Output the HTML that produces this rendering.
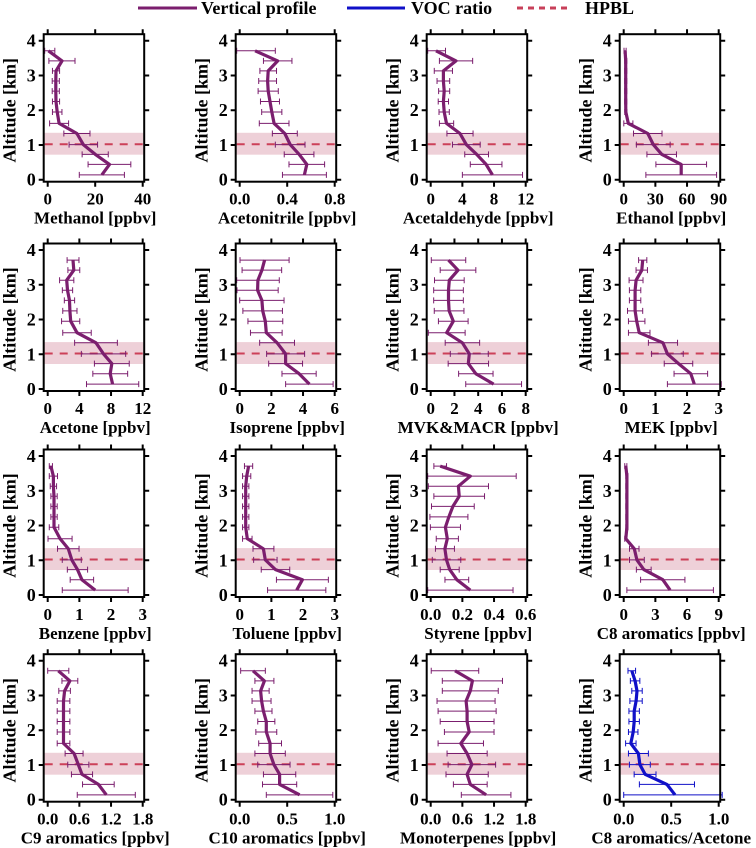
<!DOCTYPE html>
<html><head><meta charset="utf-8"><style>
html,body{margin:0;padding:0;background:#fff;}
svg{display:block;}
text{font-family:"Liberation Serif",serif;font-weight:bold;}
</style></head><body>
<svg id="fig" width="756" height="848" viewBox="0 0 756 848" xmlns="http://www.w3.org/2000/svg" font-family="Liberation Serif, serif" font-weight="bold">
<g>
<line x1="138" y1="8" x2="197" y2="8" stroke="#7b1e6e" stroke-width="3"/>
<text x="201" y="14" font-size="18">Vertical profile</text>
<line x1="347" y1="8" x2="405" y2="8" stroke="#1010c8" stroke-width="3"/>
<text x="411" y="14" font-size="18">VOC ratio</text>
<line x1="517" y1="8" x2="572" y2="8" stroke="#c8405a" stroke-width="3" stroke-dasharray="6,5"/>
<text x="585" y="14" font-size="18">HPBL</text>
</g>
<g id="panels"></g>
</svg>
<script>
const levels=[3.71,3.42,3.13,2.84,2.55,2.25,1.95,1.62,1.33,1.01,0.73,0.44,0.14];
const hpbl=1.02, hpblLo=0.72, hpblHi=1.35;
const labels=["Methanol [ppbv]","Acetonitrile [ppbv]","Acetaldehyde [ppbv]","Ethanol [ppbv]","Acetone [ppbv]","Isoprene [ppbv]","MVK&MACR [ppbv]","MEK [ppbv]","Benzene [ppbv]","Toluene [ppbv]","Styrene [ppbv]","C8 aromatics [ppbv]","C9 aromatics [ppbv]","C10 aromatics [ppbv]","Monoterpenes [ppbv]","C8 aromatics/Acetone"];
const xMax=[40,0.8,12,90,12,6,8,3,3,3,0.6,9,1.8,1.0,1.8,1.0];
const xTicks=[[0,20,40],[0,0.4,0.8],[0,4,8,12],[0,30,60,90],[0,4,8,12],[0,2,4,6],[0,2,4,6,8],[0,1,2,3],[0,1,2,3],[0,1,2,3],[0,0.2,0.4,0.6],[0,3,6,9],[0,0.6,1.2,1.8],[0,0.5,1.0],[0,0.6,1.2,1.8],[0,0.5,1.0]];
const tickDigits=[0,1,0,0,0,0,0,0,0,0,1,0,1,1,1,1];
const methanolVals=[0.3,6,3.5,3.4,3.4,3.5,4,4.8,12.3,15,20,26,22.8];
const methanolErr=[2.7,5.5,1.5,1.5,1.5,1.5,2,4,5.5,6,5.5,9,9.5];
const acetonitrileVals=[0.13,0.32,0.24,0.235,0.24,0.255,0.27,0.29,0.38,0.425,0.5,0.565,0.545];
const acetonitrileErr=[0.17,0.12,0.07,0.075,0.085,0.08,0.085,0.125,0.105,0.125,0.125,0.15,0.185];
const acetaldehydeVals=[0.67,3.2,1.6,1.6,1.7,1.6,1.7,2.0,3.7,4.5,5.8,7.0,7.8];
const acetaldehydeErr=[1.2,2.1,1.15,0.8,0.7,0.65,0.65,0.9,1.65,1.75,1.5,2.0,3.8];
const ethanolVals=[1.3,1.9,1.9,1.9,1.9,1.9,2.0,4.4,22.8,28,36,54.5,54.5];
const ethanolErr=[1,1,1,1,1,1,1,4.3,13.5,16,14,24,33.5];
const acetoneVals=[3.2,3.3,2.4,2.5,2.75,2.8,2.9,3.7,6.1,7.05,8.1,7.9,8.2];
const acetoneErr=[0.75,0.75,0.9,0.65,0.65,0.9,1.15,1.8,2.7,2.8,2.2,2.2,3.3];
const isopreneVals=[1.57,1.4,1.15,1.13,1.4,1.45,1.62,1.68,2.36,2.9,2.9,3.75,4.4];
const isopreneErr=[1.55,1.25,1.35,1.3,1.4,1.25,1.1,1.0,1.1,1.2,1.07,1.08,1.5];
const mvkVals=[1.5,2.3,1.57,1.5,1.5,1.55,1.9,1.35,2.67,3.25,3.17,3.8,5.3];
const mvkErr=[1.45,1.5,1.25,1.25,1.25,1.25,1.25,1.55,1.45,1.6,1.7,1.45,2.35];
const mekVals=[0.6,0.57,0.39,0.36,0.36,0.36,0.41,0.49,1.24,1.38,1.73,2.12,2.23];
const mekErr=[0.13,0.18,0.22,0.18,0.18,0.24,0.26,0.34,0.46,0.5,0.45,0.53,0.85];
const benzeneVals=[0.1,0.18,0.18,0.2,0.2,0.2,0.2,0.39,0.65,0.76,0.94,1.08,1.5];
const benzeneErr=[0.05,0.13,0.1,0.1,0.1,0.1,0.15,0.38,0.34,0.3,0.32,0.37,1.04];
const tolueneVals=[0.28,0.22,0.19,0.19,0.19,0.19,0.19,0.24,0.75,0.81,1.13,1.98,1.8];
const tolueneErr=[0.13,0.13,0.1,0.1,0.1,0.1,0.1,0.15,0.33,0.37,0.45,0.82,0.92];
const styreneVals=[0.06,0.25,0.175,0.18,0.14,0.115,0.093,0.105,0.09,0.1,0.12,0.165,0.25];
const styreneErr=[0.04,0.29,0.19,0.16,0.135,0.12,0.095,0.07,0.06,0.09,0.06,0.075,0.27];
const c8Vals=[0.2,0.3,0.3,0.3,0.3,0.3,0.3,0.2,1.0,1.25,1.9,3.7,4.4];
const c8Err=[0.1,0.1,0.1,0.1,0.1,0.1,0.1,0.1,0.45,0.7,0.7,2.1,4.1];
const c9Vals=[0.2,0.42,0.32,0.3,0.3,0.3,0.3,0.3,0.5,0.58,0.65,0.96,1.11];
const c9Err=[0.2,0.15,0.11,0.12,0.12,0.12,0.12,0.12,0.17,0.2,0.2,0.3,0.55];
const c10Vals=[0.14,0.26,0.22,0.23,0.25,0.28,0.28,0.32,0.32,0.36,0.42,0.42,0.63];
const c10Err=[0.13,0.1,0.09,0.1,0.09,0.09,0.11,0.12,0.16,0.17,0.17,0.18,0.35];
const monoVals=[0.46,0.79,0.75,0.67,0.69,0.69,0.73,0.57,0.69,0.78,0.69,0.75,1.05];
const monoErr=[0.45,0.57,0.53,0.55,0.55,0.51,0.47,0.43,0.38,0.45,0.4,0.32,0.47];
const ratioVals=[0.085,0.12,0.14,0.13,0.11,0.11,0.1,0.075,0.155,0.17,0.225,0.455,0.54];
const ratioErr=[0.04,0.05,0.055,0.065,0.055,0.055,0.05,0.055,0.105,0.11,0.115,0.29,0.54];

const seriesVals=[methanolVals,acetonitrileVals,acetaldehydeVals,ethanolVals,acetoneVals,isopreneVals,mvkVals,mekVals,benzeneVals,tolueneVals,styreneVals,c8Vals,c9Vals,c10Vals,monoVals,ratioVals];
const seriesErr=[methanolErr,acetonitrileErr,acetaldehydeErr,ethanolErr,acetoneErr,isopreneErr,mvkErr,mekErr,benzeneErr,tolueneErr,styreneErr,c8Err,c9Err,c10Err,monoErr,ratioErr];
const slugs=["methanol","acetonitrile","acetaldehyde","ethanol","acetone","isoprene","mvk-macr","mek","benzene","toluene","styrene","c8-aromatics","c9-aromatics","c10-aromatics","monoterpenes","c8-acetone-ratio"];

const NS="http://www.w3.org/2000/svg";
const colX=[47.7,239.7,430.7,623.7];
const rowY=[179.7,389,595,799.7];
const W=95, KM=34.75;
const FONT='"Liberation Serif", serif';
const root=document.getElementById('panels');
function mk(tag,attrs,parent){const e=document.createElementNS(NS,tag);for(const k in attrs)e.setAttribute(k,attrs[k]);parent.appendChild(e);return e;}

for(let p=0;p<16;p++){
  const x0=colX[p%4], y0=rowY[Math.floor(p/4)];
  const sx=v=>x0+v/xMax[p]*W;
  const sy=a=>y0-a*KM;
  const g=mk('g',{},root);
  
  
  const col=p===15?'#1010c8':'#7b1e6e';
  const fl=x0-4, fr=x0+W+1.5, ft=sy(4)-6.5, fb=y0+2;
  const band=mk('rect',{x:fl+0.5,y:sy(hpblHi),width:W+4,height:sy(hpblLo)-sy(hpblHi),fill:'#eed0d8'},g);
  
  
  const hl=mk('line',{x1:fl+1,x2:fr-1,y1:sy(hpbl),y2:sy(hpbl),stroke:'#cc4058','stroke-width':2,'stroke-dasharray':'8,7'},g);
  
  
  const vals=seriesVals[p], errs=seriesErr[p];
  for(let i=0;i<levels.length;i++){
    const y=sy(levels[i]);
    let a=sx(vals[i]-errs[i]), b=sx(vals[i]+errs[i]);
    a=Math.max(a,fl+1); b=Math.min(b,fr+2);
    const eb=mk('path',{d:`M${a},${y}H${b}M${a},${y-3}V${y+3}M${b},${y-3}V${y+3}`,stroke:col,'stroke-width':1,fill:'none'},g);
    
    
  }
  const pts=levels.map((a,i)=>sx(vals[i]).toFixed(1)+','+sy(a).toFixed(1)).join(' ');
  const pl=mk('polyline',{points:pts,fill:'none',stroke:col,'stroke-width':3.2,'stroke-linejoin':'round'},g);
  
  
  const fr_=mk('rect',{x:fl,y:ft,width:fr-fl,height:fb-ft,fill:'none',stroke:'#000','stroke-width':2},g);
  
  
  for(let k=0;k<=4;k++){
    const y=sy(k);
    mk('path',{d:`M${fl-5},${y}H${fl}M${fr},${y}H${fr+5}`,stroke:'#000','stroke-width':2},g);
    const t=mk('text',{x:x0-12,y:y+6,'font-size':18,'text-anchor':'end','font-family':FONT,'font-weight':'bold'},g);
    t.textContent=k;
    
    
  }
  xTicks[p].forEach(v=>{
    const x=sx(v);
    mk('path',{d:`M${x},${fb}V${fb+5}M${x},${ft}V${ft-5}`,stroke:'#000','stroke-width':2},g);
    const t=mk('text',{x:x,y:fb+23,'font-size':17,'text-anchor':'middle','font-family':FONT,'font-weight':'bold'},g);
    t.textContent=v.toFixed(tickDigits[p]);
    
    
  });
  const xt=mk('text',{x:x0+W/2,y:fb+42,'font-size':17,'text-anchor':'middle','font-family':FONT,'font-weight':'bold'},g);
  xt.textContent=labels[p];
  
  
  const cy=sy(2);
  const yt=mk('text',{x:x0-38,y:cy,'font-size':18,'text-anchor':'middle','font-family':FONT,'font-weight':'bold',transform:`rotate(-90 ${x0-38} ${cy}) translate(0 6)`},g);
  yt.textContent='Altitude [km]';
  
  
}
</script>
</body></html>
